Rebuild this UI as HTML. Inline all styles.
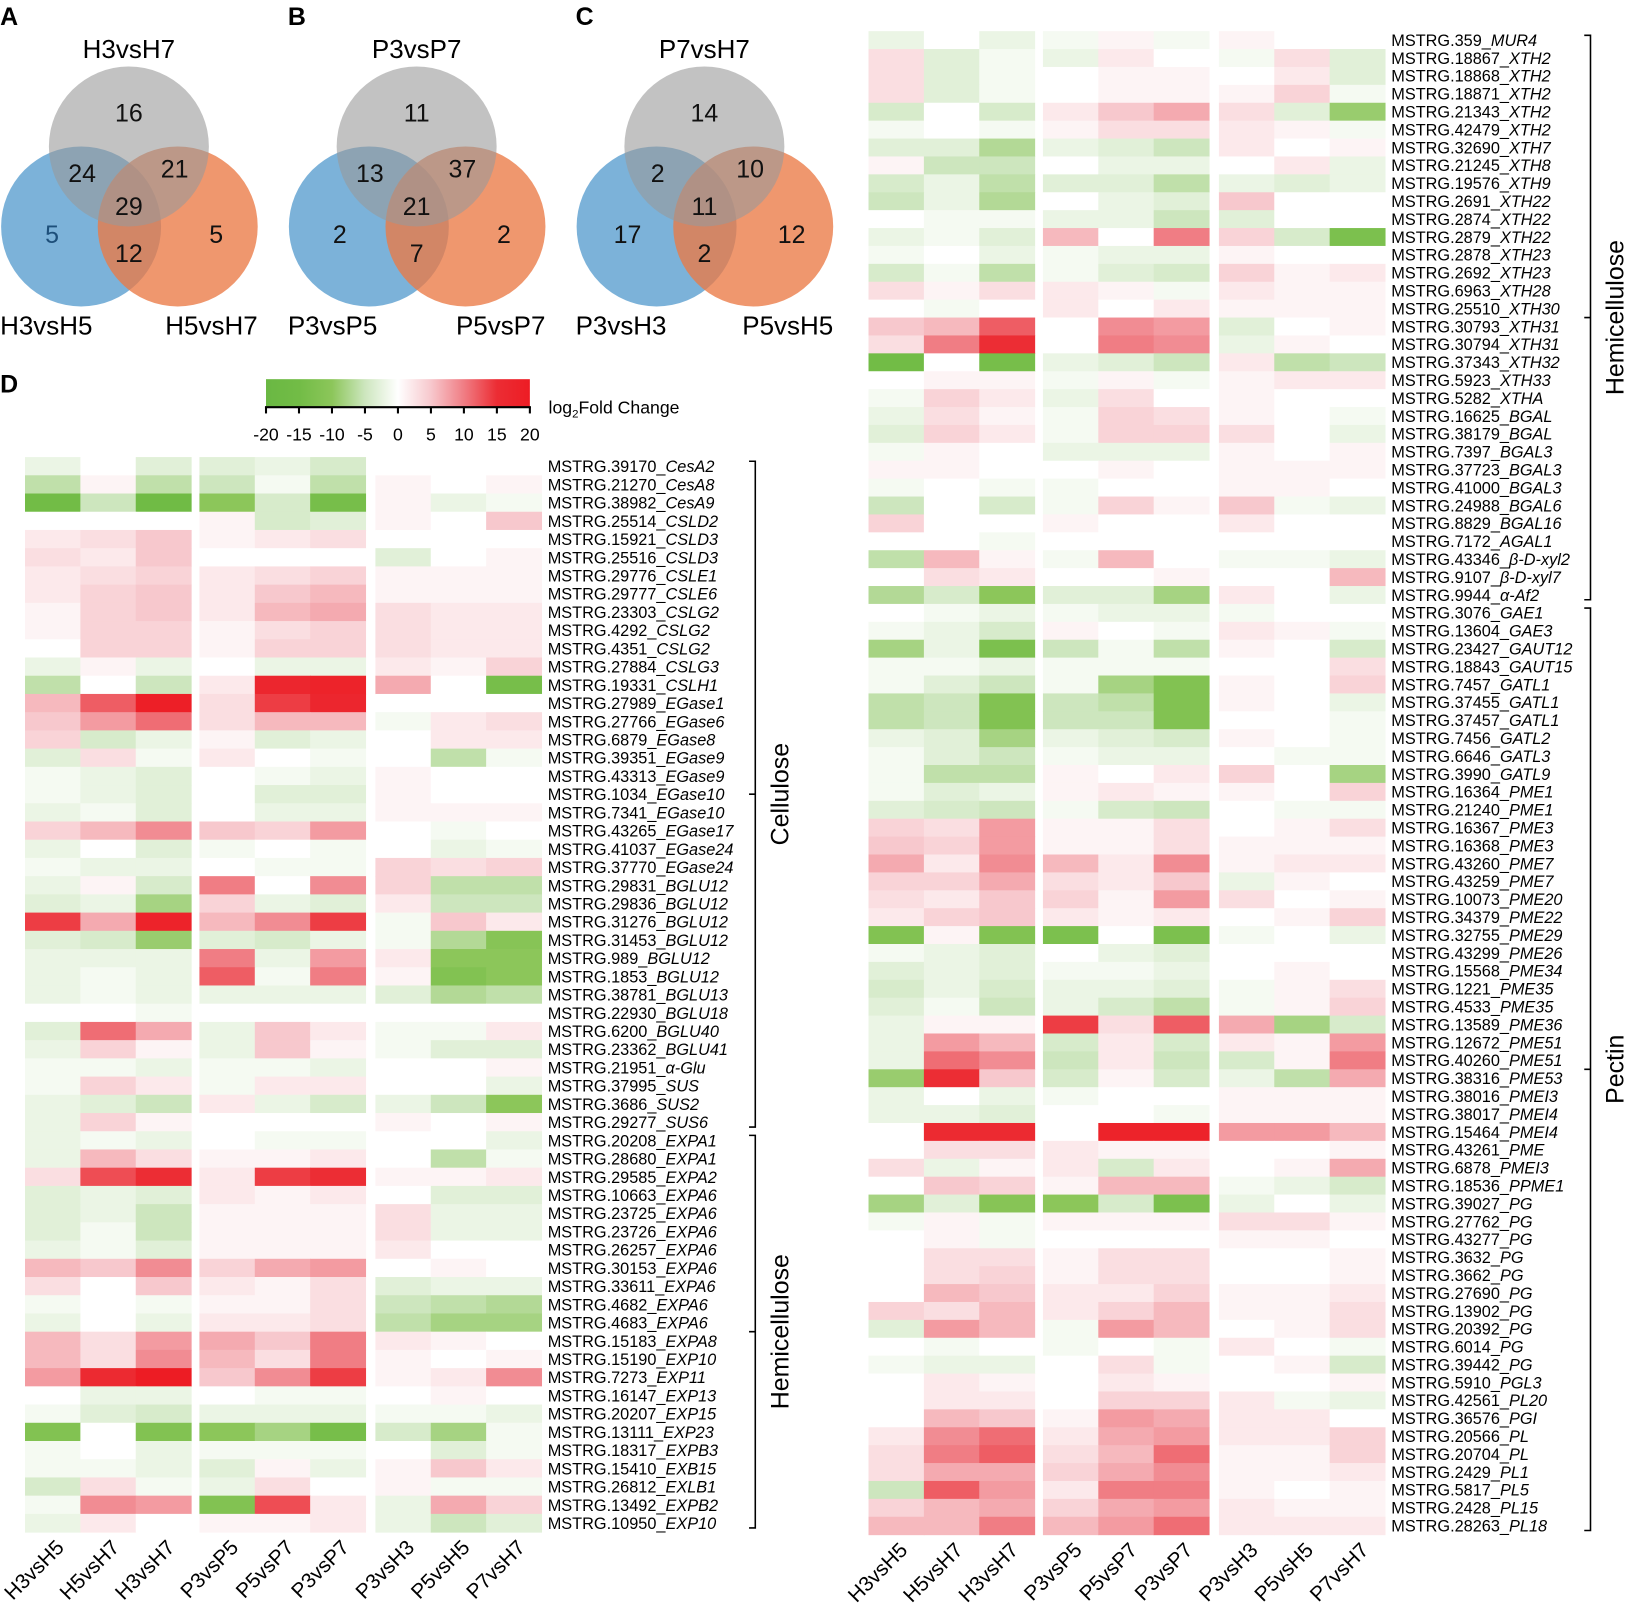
<!DOCTYPE html>
<html><head><meta charset="utf-8">
<style>
html,body{margin:0;padding:0;background:#fff;}
svg{display:block;font-family:"Liberation Sans",Arial,sans-serif;}
</style></head>
<body>
<svg id="fig" width="1629" height="1606" viewBox="0 0 1568 1546" xmlns="http://www.w3.org/2000/svg">
<g id="venns"></g>
<g id="cbar"></g>
<g id="hmL"></g>
<g id="hmR"></g>
</svg>
<script>
// ---------- data ----------
const columns = ["H3vsH5","H5vsH7","H3vsH7","P3vsP5","P5vsP7","P3vsP7","P3vsH3","P5vsH5","P7vsH7"];
const colorTicks = [-20,-15,-10,-5,0,5,10,15,20];

const vennATitles = ["H3vsH7","H3vsH5","H5vsH7"];
const vennACounts = [16,24,21,29,5,12,5];
const vennBTitles = ["P3vsP7","P3vsP5","P5vsP7"];
const vennBCounts = [11,13,37,21,2,7,2];
const vennCTitles = ["P7vsH7","P3vsH3","P5vsH5"];
const vennCCounts = [14,2,10,11,17,2,12];

const leftGenes = ["MSTRG.39170|CesA2","MSTRG.21270|CesA8","MSTRG.38982|CesA9","MSTRG.25514|CSLD2","MSTRG.15921|CSLD3","MSTRG.25516|CSLD3","MSTRG.29776|CSLE1","MSTRG.29777|CSLE6","MSTRG.23303|CSLG2","MSTRG.4292|CSLG2","MSTRG.4351|CSLG2","MSTRG.27884|CSLG3","MSTRG.19331|CSLH1","MSTRG.27989|EGase1","MSTRG.27766|EGase6","MSTRG.6879|EGase8","MSTRG.39351|EGase9","MSTRG.43313|EGase9","MSTRG.1034|EGase10","MSTRG.7341|EGase10","MSTRG.43265|EGase17","MSTRG.41037|EGase24","MSTRG.37770|EGase24","MSTRG.29831|BGLU12","MSTRG.29836|BGLU12","MSTRG.31276|BGLU12","MSTRG.31453|BGLU12","MSTRG.989|BGLU12","MSTRG.1853|BGLU12","MSTRG.38781|BGLU13","MSTRG.22930|BGLU18","MSTRG.6200|BGLU40","MSTRG.23362|BGLU41","MSTRG.21951|α-Glu","MSTRG.37995|SUS","MSTRG.3686|SUS2","MSTRG.29277|SUS6","MSTRG.20208|EXPA1","MSTRG.28680|EXPA1","MSTRG.29585|EXPA2","MSTRG.10663|EXPA6","MSTRG.23725|EXPA6","MSTRG.23726|EXPA6","MSTRG.26257|EXPA6","MSTRG.30153|EXPA6","MSTRG.33611|EXPA6","MSTRG.4682|EXPA6","MSTRG.4683|EXPA6","MSTRG.15183|EXPA8","MSTRG.15190|EXP10","MSTRG.7273|EXP11","MSTRG.16147|EXP13","MSTRG.20207|EXP15","MSTRG.13111|EXP23","MSTRG.18317|EXPB3","MSTRG.15410|EXB15","MSTRG.26812|EXLB1","MSTRG.13492|EXPB2","MSTRG.10950|EXP10"];
const leftValues = [
[-2,0,-3,-3,-2,-4,0,0,0],[-6,1,-6,-5,-1,-6,1,0,1],[-15,-5,-16,-10,-4,-14,1,-2,-1],[0,0,0,1,-4,-3,1,0,5],
[2,3,5,1,2,3,0,0,0],[3,2,5,0,0,0,-3,0,1],[2,3,4,2,3,4,1,1,1],[2,4,5,2,5,6,1,1,1],
[1,4,5,2,6,7,3,2,2],[1,4,4,1,3,4,3,2,2],[0,4,4,1,4,4,3,2,2],[-2,1,-2,0,-2,-2,2,1,4],
[-6,0,-5,2,17,18,7,0,-14],[6,12,19,3,14,17,0,0,0],[5,8,11,3,6,6,-1,2,3],[4,-4,-2,1,-3,-2,0,2,2],
[-3,3,-1,2,0,-1,0,-6,-1],[-1,-2,-3,0,-1,-2,1,0,0],[-1,-2,-3,0,-3,-3,1,0,0],[-2,-1,-3,0,-2,-2,1,1,1],
[4,6,9,5,4,8,0,-1,0],[-2,0,-3,-1,0,-1,0,-2,-1],[-1,-2,-2,0,-1,-1,4,3,4],[-2,1,-4,10,0,9,4,-6,-6],
[-3,-2,-8,4,-2,-3,2,-5,-5],[14,7,18,6,9,14,-1,5,2],[-3,-4,-9,-3,-4,-2,-1,-7,-11],[-2,-2,-2,10,-2,8,2,-10,-10],
[-2,-1,-2,12,-1,10,1,-12,-10],[-2,-1,-2,-2,-2,-2,-3,-7,-6],[0,0,-1,0,0,0,0,0,0],[-3,11,7,-2,5,2,-1,-1,2],
[-2,4,1,-2,5,1,-1,-3,-3],[-1,-1,-2,-1,-1,-2,0,0,1],[-1,4,2,-1,2,2,0,0,-2],[-2,-3,-5,2,-2,-4,-2,-5,-10],
[-2,4,1,0,0,0,1,0,1],[-2,-1,-2,0,-1,-1,0,0,-2],[-2,6,3,1,1,2,0,-6,-1],[3,13,15,2,14,15,1,1,2],
[-3,-2,-3,2,1,2,0,-3,-3],[-3,-2,-5,1,1,1,3,-2,-2],[-3,-1,-5,1,1,1,3,-2,-2],[-2,-1,-3,1,1,1,2,0,0],
[6,5,9,4,7,8,0,1,0],[3,0,5,2,1,3,-3,-2,-2],[-1,0,-1,1,1,3,-5,-6,-7],[-2,0,-2,2,2,3,-6,-8,-8],
[6,3,8,7,5,10,2,1,0],[6,3,9,6,3,10,1,0,1],[8,16,20,5,9,14,1,2,9],[0,-2,-2,0,-1,-1,0,1,0],
[-1,-3,-4,-2,-2,-2,-1,-1,-2],[-12,0,-12,-10,-8,-14,-4,-8,-1],[-1,0,-2,-1,-1,-1,0,-3,-1],[-1,-1,-2,-3,1,-2,1,5,2],
[-4,3,-1,-2,3,0,1,-1,-1],[-1,9,8,-12,13,2,-2,7,4],[-2,2,0,1,1,2,-2,-5,-3]];

const rightGenes = ["MSTRG.359|MUR4","MSTRG.18867|XTH2","MSTRG.18868|XTH2","MSTRG.18871|XTH2","MSTRG.21343|XTH2","MSTRG.42479|XTH2","MSTRG.32690|XTH7","MSTRG.21245|XTH8","MSTRG.19576|XTH9","MSTRG.2691|XTH22","MSTRG.2874|XTH22","MSTRG.2879|XTH22","MSTRG.2878|XTH23","MSTRG.2692|XTH23","MSTRG.6963|XTH28","MSTRG.25510|XTH30","MSTRG.30793|XTH31","MSTRG.30794|XTH31","MSTRG.37343|XTH32","MSTRG.5923|XTH33","MSTRG.5282|XTHA","MSTRG.16625|BGAL","MSTRG.38179|BGAL","MSTRG.7397|BGAL3","MSTRG.37723|BGAL3","MSTRG.41000|BGAL3","MSTRG.24988|BGAL6","MSTRG.8829|BGAL16","MSTRG.7172|AGAL1","MSTRG.43346|β-D-xyl2","MSTRG.9107|β-D-xyl7","MSTRG.9944|α-Af2","MSTRG.3076|GAE1","MSTRG.13604|GAE3","MSTRG.23427|GAUT12","MSTRG.18843|GAUT15","MSTRG.7457|GATL1","MSTRG.37455|GATL1","MSTRG.37457|GATL1","MSTRG.7456|GATL2","MSTRG.6646|GATL3","MSTRG.3990|GATL9","MSTRG.16364|PME1","MSTRG.21240|PME1","MSTRG.16367|PME3","MSTRG.16368|PME3","MSTRG.43260|PME7","MSTRG.43259|PME7","MSTRG.10073|PME20","MSTRG.34379|PME22","MSTRG.32755|PME29","MSTRG.43299|PME26","MSTRG.15568|PME34","MSTRG.1221|PME35","MSTRG.4533|PME35","MSTRG.13589|PME36","MSTRG.12672|PME51","MSTRG.40260|PME51","MSTRG.38316|PME53","MSTRG.38016|PMEI3","MSTRG.38017|PMEI4","MSTRG.15464|PMEI4","MSTRG.43261|PME","MSTRG.6878|PMEI3","MSTRG.18536|PPME1","MSTRG.39027|PG","MSTRG.27762|PG","MSTRG.43277|PG","MSTRG.3632|PG","MSTRG.3662|PG","MSTRG.27690|PG","MSTRG.13902|PG","MSTRG.20392|PG","MSTRG.6014|PG","MSTRG.39442|PG","MSTRG.5910|PGL3","MSTRG.42561|PL20","MSTRG.36576|PGI","MSTRG.20566|PL","MSTRG.20704|PL","MSTRG.2429|PL1","MSTRG.5817|PL5","MSTRG.2428|PL15","MSTRG.28263|PL18"];
const rightValues = [
[-2,0,-2,-1,1,-1,1,0,0],[3,-3,-1,-2,2,0,-1,3,-3],[3,-3,-1,0,1,1,0,2,-3],[3,-3,-1,0,1,1,1,4,-1],
[-4,0,-4,2,5,7,3,-3,-9],[-1,0,-1,1,3,3,2,1,-1],[-3,-3,-7,-2,-3,-5,2,0,1],[1,-5,-5,0,-2,-2,0,2,-2],
[-4,-2,-6,-3,-3,-6,-2,-3,-2],[-5,-2,-7,0,-2,-3,5,0,0],[0,-1,-1,-2,-2,-5,-3,0,0],[-2,-1,-3,6,0,10,4,-4,-13],
[-1,0,-2,-1,-2,-2,1,0,0],[-4,-1,-6,-1,-3,-4,4,1,2],[3,1,3,2,1,-1,2,1,1],[0,-1,0,2,0,2,1,1,1],
[5,6,12,0,9,8,-3,0,1],[3,10,15,0,10,9,-2,1,0],[-15,0,-14,-2,-3,-5,2,-6,-5],[0,1,1,-1,1,-1,1,2,2],
[-1,4,2,-2,3,0,1,0,0],[-2,3,1,-1,4,3,1,0,-1],[-3,4,2,-1,4,4,3,0,-2],[-1,1,0,-2,-2,-2,1,0,1],
[1,1,0,0,1,0,1,1,1],[-1,0,-1,-1,0,0,1,1,0],[-5,0,-4,-1,4,1,5,-1,-2],[4,0,0,1,0,0,2,0,0],
[0,0,-1,0,0,0,0,0,0],[-6,6,1,-1,6,0,-1,-1,-2],[0,3,2,0,0,1,0,0,6],[-7,-4,-10,-3,-3,-8,2,0,-2],
[0,-1,-2,-1,-2,-2,-1,0,0],[-1,-2,-4,1,0,-1,2,1,-1],[-8,-2,-13,-5,-1,-6,1,0,-4],[-1,-1,-2,-1,-1,-1,0,0,3],
[-1,-3,-5,-1,-8,-12,1,0,4],[-6,-5,-12,-5,-6,-12,1,0,-2],[-6,-5,-12,-5,-5,-12,0,0,-1],[-2,-3,-8,-2,-3,-4,1,0,-1],
[-1,-3,-5,-1,-2,-2,0,-1,-1],[-1,-6,-6,1,0,2,4,0,-8],[-1,-3,-2,1,2,1,1,0,4],[-3,-4,-5,-1,-4,-5,0,-1,-1],
[4,3,8,1,1,3,0,1,3],[5,4,8,1,1,3,1,1,1],[7,2,9,6,2,9,1,2,2],[4,4,7,3,2,5,-2,1,0],
[3,2,5,4,1,8,3,0,1],[2,4,5,2,1,2,0,1,4],[-12,1,-12,-13,0,-13,-1,0,-2],[-1,-2,-3,0,-2,-3,0,0,0],
[-3,-2,-3,-1,-1,-2,0,1,0],[-4,-2,-4,-2,-2,-3,-1,1,3],[-3,-1,-5,-2,-4,-6,-1,1,4],[-2,1,1,14,3,12,7,-8,-4],
[-2,8,6,-4,2,-4,2,1,8],[-2,11,9,-5,2,-5,-4,1,10],[-9,15,5,-4,1,-4,-2,-6,7],[-2,0,-2,-1,0,0,1,1,1],
[-2,-2,-3,0,0,-1,1,1,1],[0,16,16,0,18,18,8,8,6],[0,3,3,2,1,1,0,0,1],[3,-2,1,2,-4,2,0,1,7],
[0,5,4,1,6,6,-1,-2,-4],[-8,-3,-11,-10,-4,-13,-2,0,-2],[-1,1,-1,1,1,1,3,3,1],[0,1,-1,0,0,0,1,1,0],
[0,3,3,1,3,3,0,0,1],[0,3,4,1,3,3,0,0,1],[0,6,5,2,2,4,1,1,2],[4,3,6,2,4,6,1,1,3],
[-3,8,6,-1,8,6,0,1,3],[0,-1,0,-1,0,-1,2,0,-1],[-1,-2,-2,0,3,-1,0,1,-4],[0,2,1,0,2,1,0,0,1],
[0,2,2,0,4,4,2,-1,-2],[0,6,5,1,8,7,2,2,0],[2,9,11,2,7,8,2,2,4],[3,10,12,3,6,11,1,1,4],
[3,7,7,4,7,9,1,1,2],[-5,12,8,2,10,10,1,0,1],[4,6,7,4,7,8,2,1,1],[6,6,10,6,8,11,2,2,2]];

const leftGroups = [["Cellulose",0,36],["Hemicellulose",37,58]];
const rightGroups = [["Hemicellulose",0,31],["Pectin",32,83]];

// ---------- helpers ----------
const NS="http://www.w3.org/2000/svg";
function mk(tag,attrs,parent){const e=document.createElementNS(NS,tag);for(const k in attrs)e.setAttribute(k,attrs[k]);parent.appendChild(e);return e;}
const stops=[[-20,[106,184,67]],[-15,[114,188,70]],[-10,[140,198,90]],[-5,[205,230,190]],[0,[255,255,255]],[5,[247,200,205]],[10,[240,125,132]],[15,[236,45,52]],[20,[237,28,36]]];
function colorOf(v){v=Math.max(-20,Math.min(20,v));for(let i=0;i<stops.length-1;i++){const a=stops[i],b=stops[i+1];if(v>=a[0]&&v<=b[0]){const t=(v-a[0])/(b[0]-a[0]);const c=a[1].map((x,j)=>Math.round(x+(b[1][j]-x)*t));return `rgb(${c[0]},${c[1]},${c[2]})`;}}return "#fff";}

// ---------- venns ----------
const venns=document.getElementById('venns');
function drawVenn(ox,letter,titles,counts,key){
  const g=mk('g',{},venns);
  
  
  const L=mk('text',{x:ox-124,y:24,'font-size':24,'font-weight':'bold'},g);L.textContent=letter;
  
  const cb=mk('circle',{cx:ox-46,cy:218,r:77,fill:'#5b9fd0','fill-opacity':0.8},g);
  
  const co=mk('circle',{cx:ox+47,cy:218,r:77,fill:'#ea7a45','fill-opacity':0.78},g);
  
  const cg=mk('circle',{cx:ox,cy:141,r:77,fill:'#999','fill-opacity':0.6},g);
  
  const tt=mk('text',{x:ox,y:56,'font-size':25,'text-anchor':'middle'},g);tt.textContent=titles[0];
  
  const t1=mk('text',{x:ox-124,y:322,'font-size':25},g);t1.textContent=titles[1];
  
  const t2=mk('text',{x:ox+124,y:322,'font-size':25,'text-anchor':'end'},g);t2.textContent=titles[2];
  
  const pos=[[ox,117],[ox-45,175],[ox+44,171],[ox,207],[ox-74,234],[ox,252],[ox+84,234]];
  counts.forEach((c,i)=>{const t=mk('text',{x:pos[i][0],y:pos[i][1],'font-size':24,'text-anchor':'middle',fill:(key==='a'&&i===4)?'#1d4f7a':'#111'},g);t.textContent=c;
    });
}
drawVenn(124,'A',vennATitles,vennACounts,'a');
drawVenn(401,'B',vennBTitles,vennBCounts,'b');
drawVenn(678,'C',vennCTitles,vennCCounts,'c');

// ---------- colorbar ----------
const cbar=document.getElementById('cbar');
const dl=mk('text',{x:0,y:378,'font-size':24,'font-weight':'bold'},cbar);dl.textContent='D';

const defs=mk('defs',{},cbar);
const lg=mk('linearGradient',{id:'cg',x1:0,x2:1,y1:0,y2:0},defs);
stops.forEach(s=>mk('stop',{offset:((s[0]+20)/40*100)+'%','stop-color':colorOf(s[0])},lg));
const cx0=256,cx1=510;
function cbX(v){return cx0+(v+20)/40*(cx1-cx0);}
const cr=mk('rect',{x:cx0,y:365,width:cx1-cx0,height:27,fill:'url(#cg)'},cbar);

mk('line',{x1:cx0-1,x2:cx1+1,y1:392,y2:392,stroke:'#000','stroke-width':2},cbar);
colorTicks.forEach(v=>{mk('line',{x1:cbX(v),x2:cbX(v),y1:392,y2:398,stroke:'#000','stroke-width':2},cbar);
  const t=mk('text',{x:cbX(v),y:424,'font-size':17,'text-anchor':'middle'},cbar);t.textContent=v;
  });
const ct=mk('text',{x:528,y:398,'font-size':17},cbar);

ct.innerHTML='log<tspan font-size="11" dy="4">2</tspan><tspan dy="-4">Fold Change</tspan>';

// ---------- heatmaps ----------
function drawHeat(gid,genes,values,x0,y0,rowH,groups,bx,key){
  const g=document.getElementById(gid);
  const cw=53.3, gap=[0,8,17.5];
  const colX=j=>x0+j*cw+gap[Math.floor(j/3)];
  const rowY=i=>y0+i*rowH;
  values.forEach((row,i)=>row.forEach((v,j)=>{
    const r=mk('rect',{x:colX(j),y:rowY(i),width:cw+0.5,height:rowH+0.5,fill:colorOf(v)},g);
    
    
  }));
  const lx=colX(8)+cw+6;
  genes.forEach((s,i)=>{const p=s.split('|');const t=mk('text',{x:lx,y:rowY(i)+rowH-3,'font-size':15.7},g);
    
    
    t.innerHTML=p[0]+'_<tspan font-style="italic">'+p[1]+'</tspan>';});
  const by=rowY(values.length)+16;
  columns.forEach((c,j)=>{const cx=colX(j)+cw/2+12;const t=mk('text',{transform:`translate(${cx},${by}) rotate(-45)`,'font-size':20,'text-anchor':'end'},g);t.textContent=c;
    
    });
  groups.forEach(gr=>{const ya=rowY(gr[1])+4,yb=rowY(gr[2]+1)-4,ym=(ya+yb)/2;
    const p=mk('path',{d:`M${bx-6},${ya} L${bx},${ya} L${bx},${yb} L${bx-6},${yb} M${bx},${ym} L${bx-6},${ym}`,fill:'none',stroke:'#000','stroke-width':1.5},g);
    
    
    const t=mk('text',{transform:`translate(${bx+32},${ym}) rotate(-90)`,'font-size':24,'text-anchor':'middle'},g);t.textContent=gr[0];
    
    });
}
drawHeat('hmL',leftGenes,leftValues,24,440,17.54,leftGroups,727,'l');
drawHeat('hmR',rightGenes,rightValues,836,30,17.23,rightGroups,1531,'r');
</script>
</body></html>
